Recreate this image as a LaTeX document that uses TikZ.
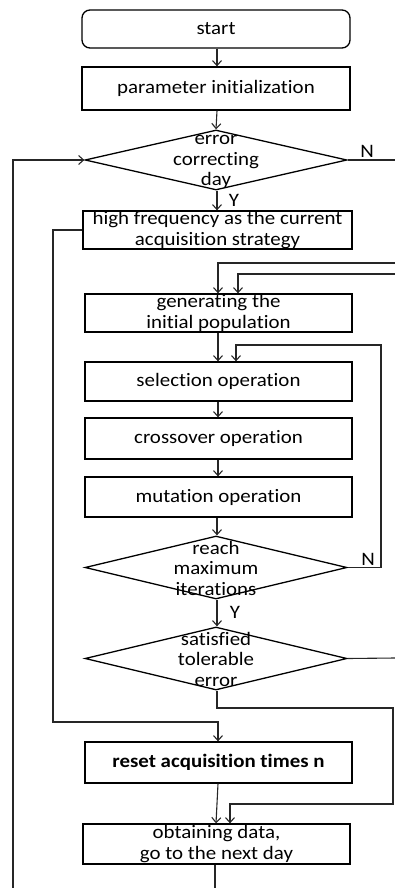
\documentclass[tikz,border=0pt]{standalone}
\usepackage{fontspec}
\setmainfont{Carlito}[FakeStretch=1.1,Ligatures=NoCommon]
\usetikzlibrary{arrows.meta,shapes.geometric}
\begin{document}
\begin{tikzpicture}[x=1pt,y=-1pt,
  font=\fontsize{19}{20.5}\selectfont,
  box/.style={draw=black,line width=1.3pt,rectangle,inner sep=0pt,align=center},
  dia/.style={draw=black,line width=1.3pt,diamond,inner sep=0pt,minimum width=262pt},
  dtext/.style={align=center,inner sep=0pt},
  conn/.style={draw=black!85,line width=1.1pt},
  arr/.style={conn,-{Straight Barb[length=5pt,width=9pt,line width=1.1pt]}},
  lbl/.style={inner sep=0pt,font=\fontsize{19}{20}\selectfont}]
\useasboundingbox (0,0) rectangle (395,888);
% nodes
\node[box,rounded corners=8pt,minimum width=268pt,minimum height=38pt] (start) at (216,29) {start};
\node[box,minimum width=268pt,minimum height=43pt] (init) at (216,88.5) {parameter initialization};
\node[dia,minimum height=60pt] (d1) at (216,160) {};
\node[dtext] (d1t) at (216,162) {error\\correcting\\day};
\node[box,minimum width=269pt,minimum height=38pt] (hf) at (217.5,230) {high frequency as the current\\acquisition strategy};
\node[box,minimum width=267pt,minimum height=38pt] (gen) at (218.5,313) {generating the\\initial population};
\node[box,minimum width=267pt,minimum height=39pt] (sel) at (218.5,381.5) {selection operation};
\node[box,minimum width=267pt,minimum height=41pt] (cro) at (218.5,438.5) {crossover operation};
\node[box,minimum width=267pt,minimum height=40pt] (mut) at (218.5,497) {mutation operation};
\node[dia,minimum height=63pt] (d2) at (216,567.5) {};
\node[dtext] (d2t) at (216,568) {reach\\maximum\\iterations};
\node[dia,minimum height=63pt] (d3) at (216,658.5) {};
\node[dtext] (d3t) at (216,659) {satisfied\\tolerable\\error};
\node[box,minimum width=267pt,minimum height=41pt,font=\bfseries\fontsize{19}{20}\selectfont] (reset) at (218.5,762.5) {reset acquisition times n};
\node[box,minimum width=267pt,minimum height=40pt] (obt) at (216.5,844) {obtaining data,\\go to the next day};
% labels
\node[lbl] (y1) at (234,200) {Y};
\node[lbl] (n1) at (367,151) {N};
\node[lbl] (n2) at (368,559) {N};
\node[lbl] (y2) at (235,612) {Y};
% free ends
\coordinate (e1) at (395,160);
\coordinate (e2) at (395,263);
\coordinate (e3) at (395,274);
\coordinate (e4) at (395,658);
\coordinate (b1) at (215,888);
\coordinate (b2) at (13,888);
% connectors
\draw[arr] (start.south -| 217,0) -- (init.north -| 217,0);
\draw[arr] (init.south -| 217,0) -- (d1.north);
\draw[arr] (d1.south -| 217,0) -- (hf.north -| 217,0);
\draw[conn] (d1.east) -- (e1);
\draw[arr] (hf.west) -- (53,230) -- (53,722) -- (218,722) -- (reset.north -| 218,0);
\draw[arr] (e2) -- (218,263) -- (gen.north -| 218,0);
\draw[arr] (e3) -- (238,274) -- (gen.north -| 238,0);
\draw[arr] (gen.south -| 218,0) -- (sel.north -| 218,0);
\draw[arr] (d2.east) -- (381,567.5) -- (381,345) -- (236,345) -- (sel.north -| 236,0);
\draw[arr] (sel.south -| 218,0) -- (cro.north -| 218,0);
\draw[arr] (cro.south -| 218,0) -- (mut.north -| 218,0);
\draw[arr] (mut.south -| 217,0) -- (d2.north -| 217,0);
\draw[arr] (d2.south -| 217,0) -- (d3.north -| 217,0);
\draw[conn] (d3.east) -- (e4);
\draw[arr] (d3.south -| 217,0) -- (217,708) -- (393,708) -- (393,804) -- (230,804) -- (obt.north -| 230,0);
\draw[arr] (reset.south -| 218,0) -- (obt.north -| 216,0);
\draw[conn] (obt.south -| 215,0) -- (b1);
\draw[arr] (b2) -- (13,160) -- (d1.west);
\end{tikzpicture}
\end{document}
